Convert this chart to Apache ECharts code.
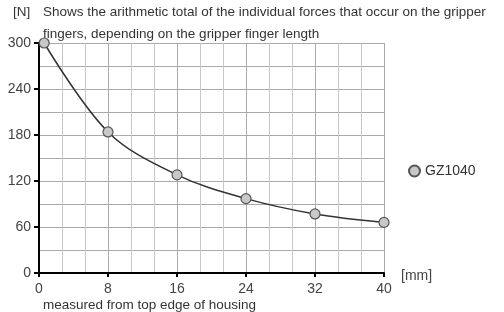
<!DOCTYPE html>
<html><head><meta charset="utf-8">
<script src="https://cdn.jsdelivr.net/npm/echarts@6/dist/echarts.min.js"></script>
<style>html,body{margin:0;padding:0;background:#fff}#c{width:504px;height:312px}</style>
</head><body><div id="c"></div>
<script>
const seriesName = 'GZ1040';
const fingerLength = [0.6, 8, 16, 24, 32, 40];
const forceN = [300, 184, 128, 97, 77, 66];
const xTicks = [0, 8, 16, 24, 32, 40];
const yTicks = [0, 60, 120, 180, 240, 300];
const titleLine1 = 'Shows the arithmetic total of the individual forces that occur on the gripper';
const titleLine2 = 'fingers, depending on the gripper finger length';
const yUnit = '[N]';
const xUnit = '[mm]';
const xNote = 'measured from top edge of housing';

const font = 'Liberation Sans, Arial, sans-serif';
const chart = echarts.init(document.getElementById('c'));
chart.setOption({
  animation: false,
  textStyle: {fontFamily: font},
  grid: {left: 39, right: 120, top: 43, bottom: 39},
  legend: {
    data: [seriesName], left: 403, top: 159, orient: 'vertical',
    icon: 'circle', itemWidth: 11, itemHeight: 11, itemGap: 4,
    textStyle: {fontSize: 14, color: '#333', fontFamily: font}
  },
  xAxis: {
    type: 'value', min: xTicks[0], max: xTicks[xTicks.length-1], interval: 8,
    axisLine: {lineStyle: {color: '#000', width: 2}},
    axisTick: {show: true, length: 4, lineStyle: {color: '#000', width: 2}},
    axisLabel: {fontSize: 14, color: '#444', margin: 9},
    splitLine: {show: true, lineStyle: {color: '#aaa', width: 1}},
    minorTick: {show: false, splitNumber: 3},
    minorSplitLine: {show: true, lineStyle: {color: '#c8c8c8', width: 1}}
  },
  yAxis: {
    type: 'value', min: yTicks[0], max: yTicks[yTicks.length-1], interval: 60,
    axisLine: {show: true, lineStyle: {color: '#000', width: 2}},
    axisTick: {show: true, length: 5, lineStyle: {color: '#000', width: 2}},
    axisLabel: {fontSize: 14, color: '#444', margin: 8},
    splitLine: {show: true, lineStyle: {color: '#aaa', width: 1}},
    minorTick: {show: false, splitNumber: 2},
    minorSplitLine: {show: true, lineStyle: {color: '#aaa', width: 1}}
  },
  series: [{
    name: seriesName, type: 'line', smooth: 0.35,
    data: fingerLength.map((x, i) => [x, forceN[i]]),
    symbol: 'circle', symbolSize: 10,
    lineStyle: {color: '#333', width: 1.5},
    itemStyle: {color: '#c8c8c8', borderColor: '#555', borderWidth: 1.2},
    z: 5
  }],
  graphic: [
    {type: 'text', left: 13, top: 5, style: {text: yUnit, fontSize: 13.5, fill: '#333', fontFamily: font}},
    {type: 'text', left: 43, top: 5, style: {text: titleLine1, fontSize: 13.5, fill: '#333', fontFamily: font}},
    {type: 'text', left: 43, top: 27, style: {text: titleLine2, fontSize: 13.5, fill: '#333', fontFamily: font}},
    {type: 'text', left: 401, top: 269, style: {text: xUnit, fontSize: 14, fill: '#444', fontFamily: font}},
    {type: 'text', left: 43, top: 298, style: {text: xNote, fontSize: 13.5, fill: '#333', fontFamily: font}}
  ]
});
</script></body></html>
